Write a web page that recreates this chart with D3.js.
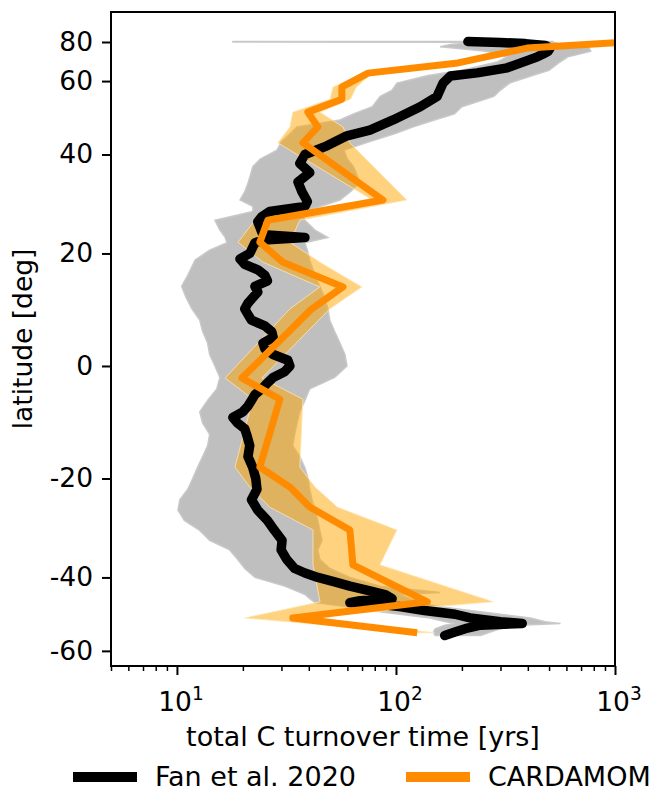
<!DOCTYPE html>
<html>
<head>
<meta charset="utf-8">
<script src="https://cdn.jsdelivr.net/npm/d3@7"></script>
<style>
  html, body { margin: 0; padding: 0; background: #fff; }
  svg { display: block; font-family: "DejaVu Sans", sans-serif; }
</style>
</head>
<body>
<svg id="chart" width="651" height="795"></svg>
<script>
// ============================================================================
// DATA - latitudinal profile of total C turnover time
// ============================================================================

// Fan et al. 2020, median line
const fanLat = [80.4, 79.5, 78.5, 77, 75, 73, 71.5, 70, 67, 65,
    63, 61.8, 59.3, 55, 52, 48.4, 45.8, 44.4, 42, 40,
    38, 36, 34, 32, 30, 29, 28, 27, 26, 24,
    23.5, 23, 22.5, 22, 20, 19, 18, 17, 16, 15,
    14, 13, 12, 11, 10, 9, 8, 7, 6, 5,
    4, 3, 2, 1, 0, -1, -2, -3, -4, -5,
    -6, -7, -8, -9, -10, -11, -12, -14, -16, -18,
    -20, -22, -24, -26, -28, -30, -32, -34, -36, -38,
    -39, -40, -41, -42, -43, -44, -45, -45.5, -46, -46.5,
    -47, -48, -49, -50, -51, -51.5, -52, -53, -54, -55];
const fanTau = [213, 300, 390, 480, 505, 495, 470, 442, 369, 322,
    235, 177, 164, 154, 129, 97, 76, 59.7, 48.4, 38.4,
    36.4, 40.4, 35.7, 37.2, 39.4, 38.4, 26.5, 24.4, 23.4, 24.4,
    25, 38.4, 25, 22.7, 21.5, 19.4, 20.4, 23.4, 25.2, 25.9,
    22.7, 23.4, 22.2, 21.1, 20.4, 21.1, 21.9, 25.2, 27.1, 27.5,
    24.7, 25.2, 27.5, 32.1, 32.8, 31.0, 27.5, 25.8, 24.4, 22.7,
    21.9, 21.1, 20.0, 18.0, 18.9, 20.4, 20.8, 21.5, 21.1, 22.2,
    22.9, 23.2, 21.9, 23.4, 25.9, 27.9, 30.2, 29.9, 31.7, 34.5,
    38.4, 44.0, 52.5, 61.6, 74.4, 89.0, 96, 68.5, 61.6, 84.5,
    104, 135, 186, 218, 300, 377, 243, 207, 186, 167];

// Fan et al. 2020, uncertainty range (grey)
const bandLat = [80.6, 80.0, 79.6, 78, 76, 73, 70, 67.5, 64, 62, 59.3,
    57, 55, 52, 50, 48.4, 46.6, 45, 43, 41, 39,
    37.3, 35, 33.8, 32, 30.3, 29, 28, 26.3, 24.4, 23,
    22, 20.6, 18.8, 16, 14, 12, 10, 8, 6, 4,
    2, 0, -2, -4, -6, -8, -10, -12, -14, -16,
    -18, -20, -22, -24, -26, -28, -30, -32, -34, -36,
    -38, -40, -42, -43.5, -44, -45, -46, -47, -48, -49,
    -50, -51, -51.5, -52, -53, -54, -55];
const bandLow = [18, 18, 250, 180, 159, 260, 320, 290, 200, 140, 101,
    96, 84.5, 78, 64, 55.5, 35.3, 33, 30, 28.6, 24,
    22.2, 21.5, 21.1, 20.4, 19.4, 22.2, 22.2, 14.9, 15.7, 16.6,
    16.9, 14.1, 12.1, 11.2, 10.5, 11.0, 11.7, 12.7, 13.1, 13.8,
    14.1, 14.9, 15.7, 15.2, 13.8, 12.7, 13.1, 14.1, 13.8, 13.1,
    12.4, 11.8, 11.2, 10.3, 10.1, 10.8, 12.7, 14.1, 17.4, 18.9,
    20.4, 22.7, 31.0, 36.4, 38.4, 40.4, 42.7, 58.5, 76.1, 104,
    143, 167, 186, 167, 151, 148, 151];
const bandHigh = [520, 520, 530, 560, 760, 775, 610, 560, 500, 420, 330,
    300, 280, 200, 185, 150, 120, 100, 76, 58, 60,
    64, 67, 68, 62, 55.5, 45, 37, 38.4, 42.7, 48.9,
    38.4, 39.4, 40.4, 42.7, 44.9, 47.3, 48.9, 49.9, 52.5, 55.5,
    58.5, 59.8, 52.5, 40.4, 38.4, 36.4, 35.4, 34.5, 33.8, 36.4,
    38.4, 39.7, 40.4, 41.4, 42.7, 44.0, 44.9, 46.0, 44.0, 44.9,
    49.9, 61.6, 84.5, 159, 104, 116, 129, 159, 218, 300,
    411, 480, 564, 370, 300, 270, 243];

// CARDAMOM, line and range (orange)
const cardLat = [80, 75.1, 67.1, 62.9, 58.0, 54.2, 50.5, 46.6, 42.7, 30.3,
    26.3, 22.1, 18.4, 13.9, 10.0, -2.1, -5.8, -17.9, -21.6, -25.4,
    -29.9, -37.2, -45.8, -50.0, -54.2];
const cardTau = [1150, 397, 192, 74.5, 56.6, 56.6, 39.6, 44, 37.6, 87.2,
    26.0, 23.9, 30.4, 57.3, 41.3, 19.8, 29.5, 23.9, 32.8, 40.4,
    61.6, 63.6, 139, 33.8, 125];
const cardLow = [1100, 385, 185, 71, 51.6, 50, 33.8, 32.8, 28.9, 78,
    22.7, 19.0, 24.7, 44.9, 32.8, 16.6, 22.2, 18.4, 21.5, 26.5,
    41.8, 41.8, 45, 20.4, 118];
const cardHigh = [1200, 410, 200, 78, 66, 62, 45, 57.3, 61.6, 112,
    36.4, 32.8, 44.9, 69.9, 49.9, 24.4, 37.6, 36.4, 42.7, 54,
    101, 84.5, 278, 36.4, 150];

// Axes
const latTicks = [80, 60, 40, 20, 0, -20, -40, -60];
const xMajorTicks = [10, 100, 1000];
const xMinorTicks = [5, 6, 7, 8, 9, 20, 30, 40, 50, 60, 70, 80, 90,
    200, 300, 400, 500, 600, 700, 800, 900];
const xLabel = "total C turnover time [yrs]";
const yLabel = "latitude [deg]";
const seriesNames = ["Fan et al. 2020", "CARDAMOM"];

// ============================================================================
// LAYOUT
// ============================================================================

const COLORS = {
    fan: "#000000",
    fanBand: "#bfbfbf",
    card: "#ff8c00",
    cardBand: "#ffa500"
};
const FONT = 26.5;
const plot = { left: 111, right: 615, top: 12, bottom: 666 };

const svg = d3.select("#chart");

const x = d3.scaleLog()
    .domain([5, 1000])
    .range([plot.left, plot.right]);

// latitude axis is linear in sin(lat)
const ySin = d3.scaleLinear()
    .domain([-0.912, 1.076])
    .range([plot.bottom, plot.top]);
const sinDeg = d => Math.sin(d * Math.PI / 180);
const y = lat => ySin(sinDeg(lat));

const fanData = fanLat.map((lat, i) => ({ lat, v: fanTau[i] }));
const bandData = bandLat.map((lat, i) => ({ lat, lo: bandLow[i], hi: bandHigh[i] }));
const cardData = cardLat.map((lat, i) => ({ lat, v: cardTau[i], lo: cardLow[i], hi: cardHigh[i] }));

svg.append("clipPath")
    .attr("id", "plot-clip")
    .append("rect")
    .attr("x", plot.left)
    .attr("y", plot.top)
    .attr("width", plot.right - plot.left)
    .attr("height", plot.bottom - plot.top);

const g = svg.append("g").attr("clip-path", "url(#plot-clip)");

const bandArea = d3.area()
    .y(d => y(d.lat))
    .x0(d => x(d.lo))
    .x1(d => x(d.hi));

const profileLine = d3.line()
    .x(d => x(d.v))
    .y(d => y(d.lat));

// grey band
g.append("path")
    .datum(bandData)
    .attr("fill", COLORS.fanBand)
    .attr("stroke", "#c9c9c9")
    .attr("stroke-width", 1.4)
    .attr("d", bandArea);

// orange band
g.append("path")
    .datum(cardData)
    .attr("fill", COLORS.cardBand)
    .attr("fill-opacity", 0.5)
    .attr("stroke", "#ffe6b8")
    .attr("stroke-width", 0.8)
    .attr("d", bandArea);

// Fan line
g.append("path")
    .datum(fanData)
    .attr("fill", "none")
    .attr("stroke", COLORS.fan)
    .attr("stroke-width", 9.5)
    .attr("stroke-linejoin", "round")
    .attr("stroke-linecap", "round")
    .attr("d", profileLine);

// CARDAMOM line
g.append("path")
    .datum(cardData)
    .attr("fill", "none")
    .attr("stroke", COLORS.card)
    .attr("stroke-width", 7)
    .attr("stroke-linejoin", "round")
    .attr("d", profileLine);

// ============================================================================
// AXES
// ============================================================================

svg.append("rect")
    .attr("x", plot.left)
    .attr("y", plot.top)
    .attr("width", plot.right - plot.left)
    .attr("height", plot.bottom - plot.top)
    .attr("fill", "none")
    .attr("stroke", "#000")
    .attr("stroke-width", 2);

const yAxis = svg.append("g")
    .attr("transform", `translate(${plot.left},0)`)
    .call(d3.axisLeft(ySin)
        .tickValues(latTicks.map(sinDeg))
        .tickFormat((d, i) => latTicks[i])
        .tickSize(9)
        .tickSizeOuter(0)
        .tickPadding(9));
yAxis.select(".domain").remove();
yAxis.selectAll(".tick line").attr("stroke-width", 2);
yAxis.selectAll(".tick text")
    .style("font-size", FONT + "px")
    .style("font-family", "DejaVu Sans")
    .attr("fill", "#000");

const xMinor = svg.append("g")
    .attr("transform", `translate(0,${plot.bottom})`)
    .call(d3.axisBottom(x).tickValues(xMinorTicks).tickFormat("").tickSize(5).tickSizeOuter(0));
xMinor.select(".domain").remove();
xMinor.selectAll(".tick line").attr("stroke-width", 1.5);

const xMajor = svg.append("g")
    .attr("transform", `translate(0,${plot.bottom})`)
    .call(d3.axisBottom(x).tickValues(xMajorTicks).tickFormat("").tickSize(9).tickSizeOuter(0));
xMajor.select(".domain").remove();
xMajor.selectAll(".tick line").attr("stroke-width", 2);

// 10^n labels
const xLab = svg.append("g")
    .selectAll("text")
    .data(xMajorTicks)
    .enter()
    .append("text")
    .attr("x", d => x(d) + 4)
    .attr("y", 711)
    .attr("text-anchor", "middle")
    .style("font-size", FONT + "px");
xLab.append("tspan").text("10");
xLab.append("tspan")
    .attr("dy", -11)
    .style("font-size", (FONT * 0.7) + "px")
    .text(d => Math.round(Math.log10(d)));

svg.append("text")
    .attr("x", (plot.left + plot.right) / 2)
    .attr("y", 746)
    .attr("text-anchor", "middle")
    .style("font-size", "27px")
    .text(xLabel);

svg.append("text")
    .attr("transform", `translate(32,${(plot.top + plot.bottom) / 2}) rotate(-90)`)
    .attr("text-anchor", "middle")
    .style("font-size", FONT + "px")
    .text(yLabel);

// ============================================================================
// LEGEND
// ============================================================================

const legend = svg.append("g").attr("transform", "translate(0,777)");
const legendX = [73, 406];
const legendColors = [COLORS.fan, COLORS.card];

seriesNames.forEach((name, i) => {
    legend.append("line")
        .attr("x1", legendX[i])
        .attr("x2", legendX[i] + 64)
        .attr("stroke", legendColors[i])
        .attr("stroke-width", 10);
    legend.append("text")
        .attr("x", legendX[i] + 82)
        .attr("y", 9)
        .style("font-size", "27px")
        .text(name);
});
</script>
</body>
</html>
